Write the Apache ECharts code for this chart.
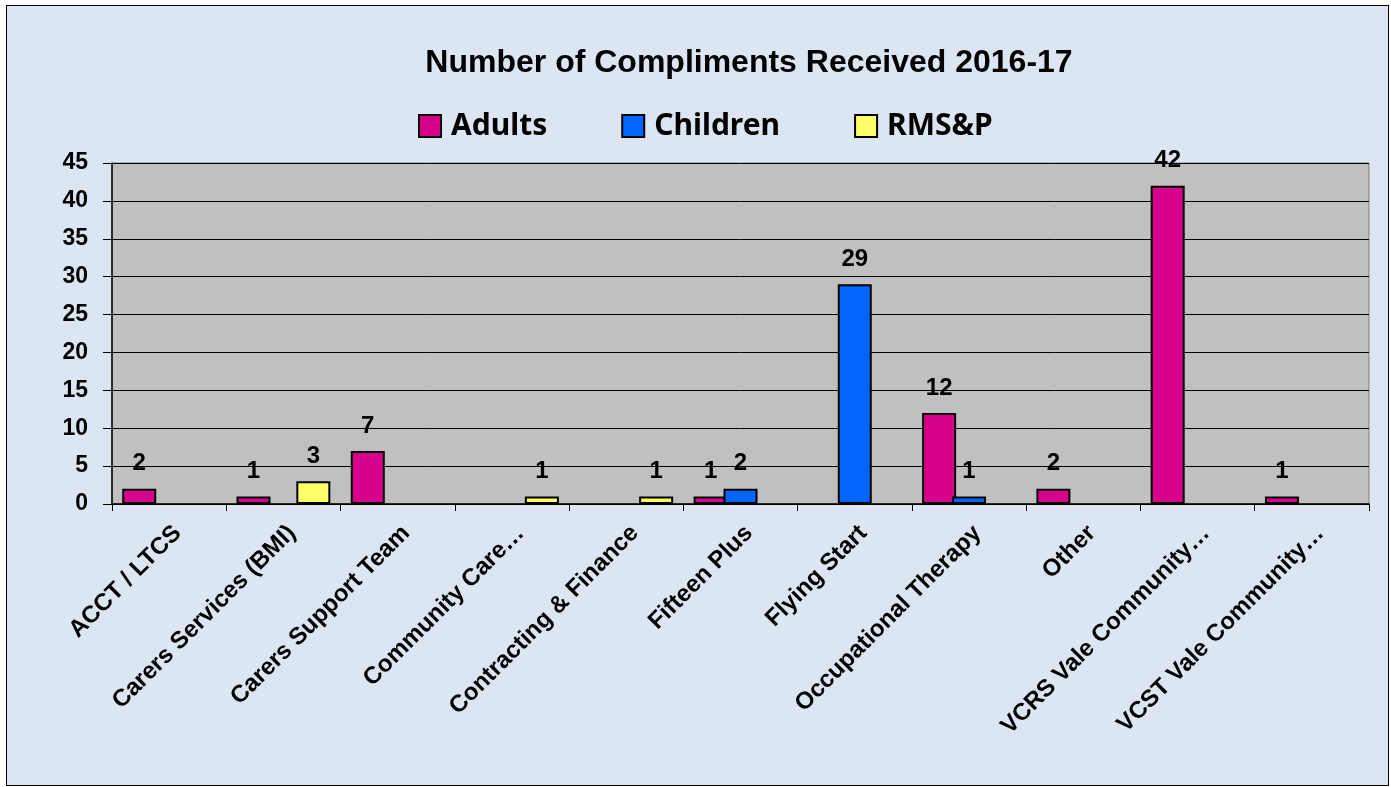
<!DOCTYPE html>
<html>
<head>
<meta charset="utf-8">
<script src="https://cdn.jsdelivr.net/npm/echarts@6/dist/echarts.min.js"></script>
<style>
html,body{margin:0;padding:0;background:#ffffff;width:1391px;height:787px;overflow:hidden;}
#bg{position:absolute;left:6px;top:5px;width:1381px;height:779px;background:#dce6f2;border:1.5px solid #000;}
#chart{position:absolute;left:0;top:0;width:1391px;height:787px;}
</style>
</head>
<body>
<div id="bg"></div>
<div id="chart"></div>
<script>
const categories = ["ACCT / LTCS","Carers Services (BMI)","Carers Support Team","Community Care…","Contracting & Finance","Fifteen Plus","Flying Start","Occupational Therapy","Other","VCRS Vale Community…","VCST Vale Community…"];
const adults   = [2, 1, 7, null, null, 1, null, 12, 2, 42, 1];
const children = [null, null, null, null, null, 2, 29, 1, null, null, null];
const rmsp     = [null, 3, null, 1, 1, null, null, null, null, null, null];
const yTicks = [0,5,10,15,20,25,30,35,40,45];

const chart = echarts.init(document.getElementById('chart'), null, {renderer:'canvas'});
const labelCfg = {show:true, position:'top', distance:13, color:'#000', fontFamily:'Liberation Sans, Arial, sans-serif', fontWeight:'bold', fontSize:24};
function mk(name, data, color){
  return {name:name, type:'bar', data:data, barWidth:34, barGap:'-12%',
    itemStyle:{color:color, borderColor:'#000', borderWidth:2},
    label:labelCfg};
}
chart.setOption({
  backgroundColor:'transparent',
  animation:false,
  title:{text:'Number of Compliments Received 2016-17', left:744, textAlign:'center', top:42,
    textStyle:{fontFamily:'Liberation Sans, Arial, sans-serif', fontWeight:'bold', fontSize:32, color:'#000'}},
  legend:{left:413, top:106, itemWidth:22, itemHeight:22, itemGap:74, icon:'rect',
    data:['Adults','Children','RMS&P'],
    textStyle:{fontFamily:'Noto Sans, Open Sans, sans-serif', fontWeight:'bold', fontSize:30, color:'#000', padding:[0,0,0,5]}},
  grid:{left:112, top:163, width:1257, height:341, show:true, backgroundColor:'#c0c0c0', borderColor:'#808080', borderWidth:1},
  xAxis:{type:'category', data:categories,
    axisLine:{lineStyle:{color:'#000', width:1.5}},
    axisTick:{show:true, length:7, lineStyle:{color:'#000'}},
    axisLabel:{rotate:45, margin:17, interval:0, color:'#000', fontFamily:'Liberation Sans, Arial, sans-serif', fontWeight:'bold', fontSize:24,
      verticalAlign:'top', lineHeight:24}},
  yAxis:{type:'value', min:0, max:45, interval:5,
    axisLine:{show:true, lineStyle:{color:'#000', width:1.5}},
    axisTick:{show:true, length:9, lineStyle:{color:'#000'}},
    splitLine:{show:true, lineStyle:{color:'#000', width:1}},
    axisLabel:{margin:24, color:'#000', fontFamily:'Liberation Sans, Arial, sans-serif', fontWeight:'bold', fontSize:23,
      formatter:function(v){return yTicks.indexOf(v)>=0 ? String(v) : '';}}},
  series:[mk('Adults', adults, '#d6008c'), mk('Children', children, '#0066ff'), mk('RMS&P', rmsp, '#ffff66')]
});
</script>
</body>
</html>
